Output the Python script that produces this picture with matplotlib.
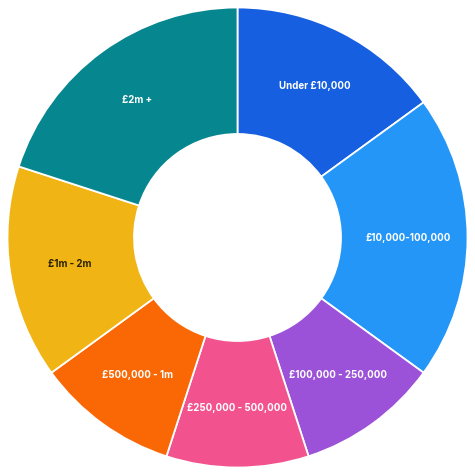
import numpy as np
import matplotlib
matplotlib.use("Agg")
import matplotlib.pyplot as plt

# Share of each band
labels = ["Under £10,000", "£10,000-100,000", "£100,000 - 250,000",
          "£250,000 - 500,000", "£500,000 - 1m", "£1m - 2m", "£2m +"]
shares = [15, 20, 10, 10, 10, 15, 20]
colors = ["#165FE0", "#2396F7", "#9B52D8", "#F2528D", "#FA6705", "#F0B514", "#06868F"]
text_colors = ["white", "white", "white", "white", "white", "#2a2300", "white"]

fig = plt.figure(figsize=(4.75, 4.75), dpi=100)
ax = fig.add_axes([0, 0, 1, 1])

wedges, _ = ax.pie(
    shares,
    colors=colors,
    startangle=90,
    counterclock=False,
    radius=1.0,
    wedgeprops=dict(width=0.55, edgecolor="white", linewidth=1.3),
)

# labels placed in the middle of each ring segment
label_r = 0.74
for w, lab, tc in zip(wedges, labels, text_colors):
    ang = np.deg2rad((w.theta1 + w.theta2) / 2)
    ax.text(label_r * np.cos(ang), label_r * np.sin(ang), lab,
            ha="center", va="center", fontsize=7, fontweight="bold",
            color=tc, family=["Inter", "DejaVu Sans"])

lim = 237.5 / 230
ax.set_xlim(-lim, lim)
ax.set_ylim(-lim, lim)
ax.set_aspect("equal")
ax.axis("off")

fig.savefig("out.png", dpi=100, facecolor="white")
